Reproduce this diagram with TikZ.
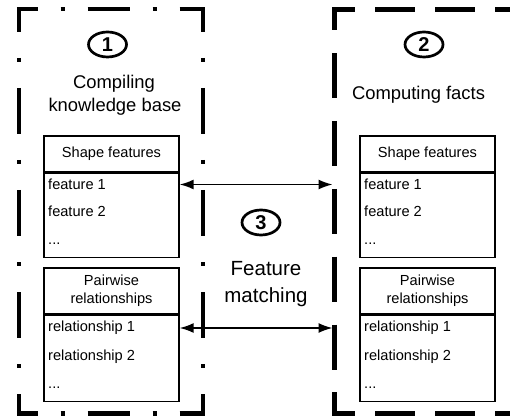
\documentclass[tikz,border=0pt]{standalone}
\usepackage{fontspec}
\setmainfont{Liberation Sans}
\usetikzlibrary{arrows.meta,shapes.geometric}
\begin{document}
\begin{tikzpicture}[x=1pt,y=-1pt,
  bigtxt/.style={font=\fontsize{18.4}{23}\selectfont, align=center, inner sep=0pt},
  fmtxt/.style={font=\fontsize{20.5}{27}\selectfont, align=center, inner sep=0pt},
  hdr/.style={draw, line width=1.3pt, minimum width=135pt, inner sep=0pt, align=center,
    font=\fontsize{14.6}{18}\selectfont},
  bodybox/.style={draw, line width=1.3pt, minimum width=135pt, inner sep=0pt, anchor=north},
  item/.style={font=\fontsize{14.6}{18}\selectfont, inner sep=0pt, anchor=base west},
  numcirc/.style={draw, ellipse, line width=2.7pt, minimum width=38pt, minimum height=25pt,
    inner sep=0pt, font=\fontsize{20}{20}\selectfont\bfseries},
  dashdotv/.style={line width=4.4pt, line cap=butt, dash pattern=on 46pt off 26pt on 4pt off 26pt, dash phase=23pt},
  dashdoth/.style={line width=4.4pt, line cap=butt, dash pattern=on 42pt off 23pt on 4pt off 23pt, dash phase=21.25pt},
  dashv/.style={line width=4.4pt, line cap=butt, dash pattern=on 45.25pt off 22.6pt, dash phase=24.25pt},
  dashh/.style={line width=4.4pt, line cap=butt, dash pattern=on 40pt off 20pt, dash phase=17pt},
  arr/.style={line width=1.6pt, {Latex[length=14pt,width=10pt]}-{Latex[length=14pt,width=10pt]}}
]
\useasboundingbox (0,0) rectangle (510,419);

% left dash-dot box
\coordinate (LTL) at (19,9);
\coordinate (LTR) at (203,9);
\coordinate (LBL) at (19,413.5);
\coordinate (LBR) at (203,413.5);
\draw[dashdoth] ([xshift=-2.2pt]LTL) -- ([xshift=2.2pt]LTR);
\draw[dashdoth] ([xshift=-2.2pt]LBL) -- ([xshift=2.2pt]LBR);
\draw[dashdotv] (LTL) -- (LBL);
\draw[dashdotv] (LTR) -- (LBR);

% right dashed box
\coordinate (RTL) at (334.5,9.5);
\coordinate (RTR) at (510,9.5);
\coordinate (RBL) at (334.5,413.5);
\coordinate (RBR) at (510,413.5);
\draw[dashh] ([xshift=-2.2pt]RTL) -- (RTR);
\draw[dashh] ([xshift=-2.2pt]RBL) -- (RBR);
\draw[dashv] (RTL) -- (RBL);

% numbers and titles
\node[numcirc] (n1) at (107.5,44.5) {1};
\node[numcirc] (n2) at (424,44.5) {2};
\node[numcirc] (n3) at (261,222.5) {3};
\node[bigtxt, anchor=base] (t1a) at (114,89) {Compiling};
\node[bigtxt, anchor=base] (t1b) at (115,112) {knowledge base};
\node[bigtxt, anchor=base] (t2) at (418.5,100) {Computing facts};
\node[fmtxt, anchor=base] (t3a) at (266,275) {Feature};
\node[fmtxt, anchor=base] (t3b) at (266,302) {matching};

% left tables
\node[hdr, minimum height=36pt] (lsh) at (111.5,154) {Shape features};
\node[bodybox, minimum height=84pt] (lsb) at (lsh.south) {};
\node[item] (lf1) at (48,190) {feature 1};
\node[item] (lf2) at (48,217) {feature 2};
\node[item] (lf3) at (48,244) {...};
\node[hdr, minimum height=46pt] (lph) at (111.5,291) {Pairwise\\relationships};
\node[bodybox, minimum height=86pt] (lpb) at (lph.south) {};
\node[item] (lr1) at (48,331) {relationship 1};
\node[item] (lr2) at (48,360) {relationship 2};
\node[item] (lr3) at (48,388) {...};

% right tables
\node[hdr, minimum height=36pt] (rsh) at (427.5,154) {Shape features};
\node[bodybox, minimum height=84pt] (rsb) at (rsh.south) {};
\node[item] (rf1) at (364,190) {feature 1};
\node[item] (rf2) at (364,217) {feature 2};
\node[item] (rf3) at (364,244) {...};
\node[hdr, minimum height=46pt] (rph) at (427.5,291) {Pairwise\\relationships};
\node[bodybox, minimum height=86pt] (rpb) at (rph.south) {};
\node[item] (rr1) at (364,331) {relationship 1};
\node[item] (rr2) at (364,360) {relationship 2};
\node[item] (rr3) at (364,388) {...};

% arrows
\coordinate (a1e) at (332.5,184.5);
\coordinate (a2e) at (332.5,328);
\draw[arr] (lsb.east |- a1e) -- (a1e);
\draw[arr] (lpb.east |- a2e) -- (a2e);
\end{tikzpicture}
\end{document}
